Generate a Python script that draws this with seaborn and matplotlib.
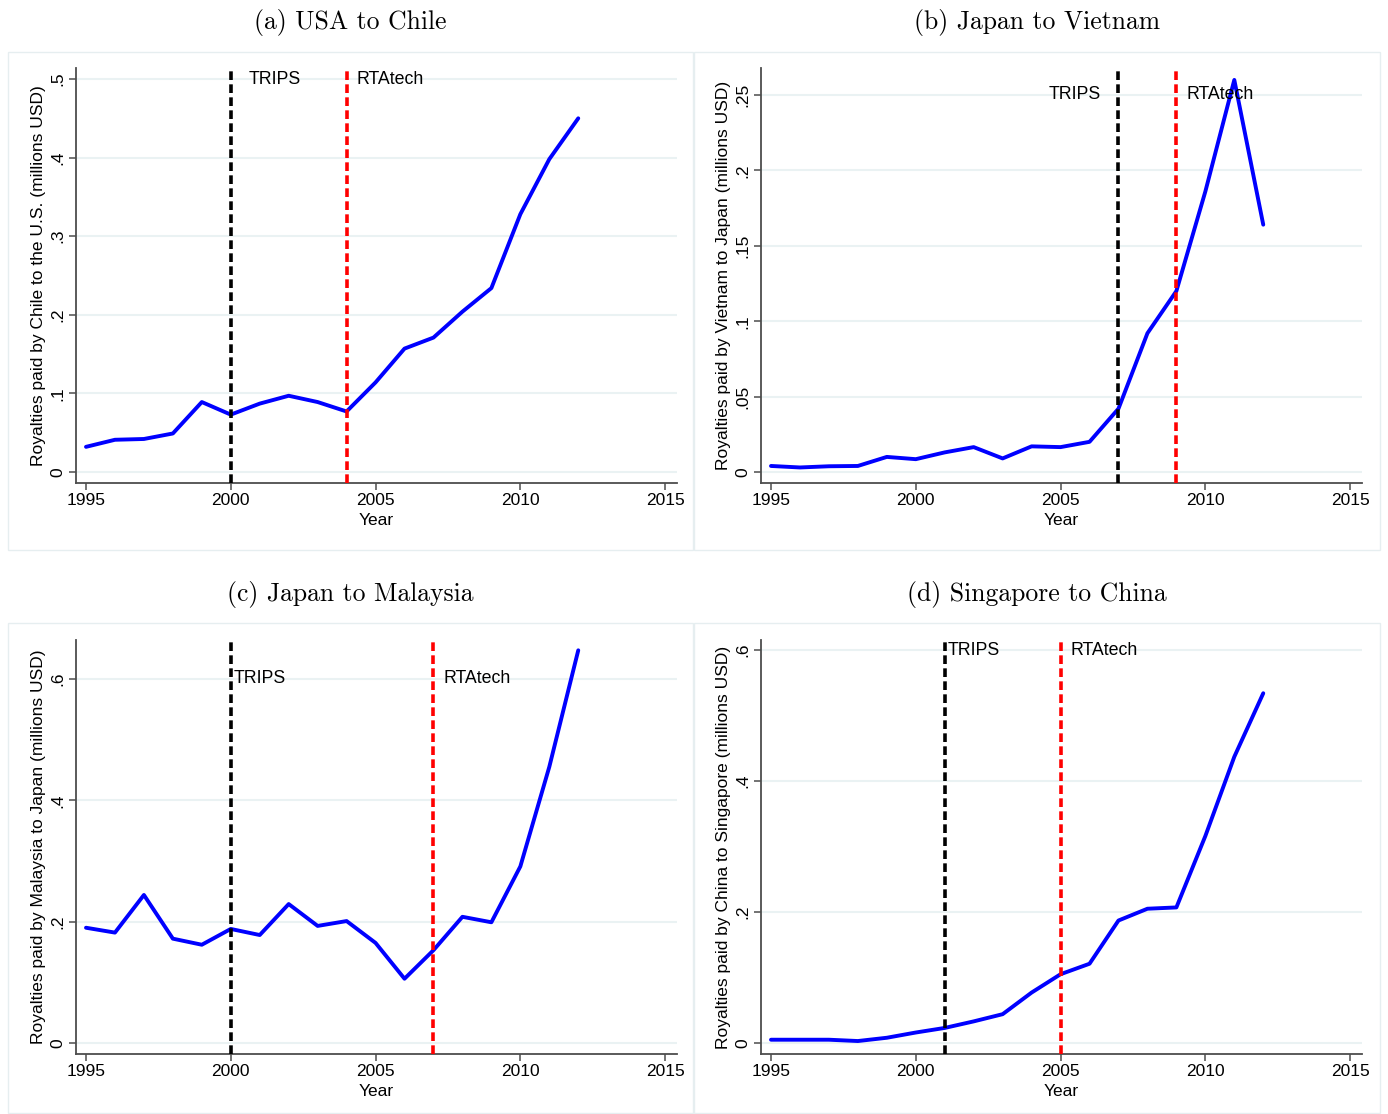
import numpy as np
import pandas as pd
import matplotlib
matplotlib.use("Agg")
import matplotlib.pyplot as plt
from matplotlib.patches import Rectangle
import seaborn as sns

# data
years = list(range(1995, 2013))
chile = [0.032, 0.041, 0.042, 0.049, 0.089, 0.073, 0.087, 0.097, 0.089, 0.077,
         0.114, 0.157, 0.171, 0.204, 0.234, 0.328, 0.398, 0.450]
vietnam = [0.004, 0.003, 0.0038, 0.004, 0.010, 0.0085, 0.013, 0.0165, 0.009, 0.017,
           0.0165, 0.020, 0.042, 0.092, 0.120, 0.186, 0.260, 0.164]
malaysia = [0.190, 0.182, 0.244, 0.172, 0.162, 0.188, 0.178, 0.229, 0.193, 0.201,
            0.165, 0.106, 0.153, 0.208, 0.199, 0.291, 0.455, 0.647]
china = [0.005, 0.005, 0.005, 0.003, 0.008, 0.016, 0.023, 0.033, 0.044, 0.077,
         0.105, 0.121, 0.187, 0.205, 0.207, 0.316, 0.437, 0.534]

titles = ["(a) USA to Chile", "(b) Japan to Vietnam",
          "(c) Japan to Malaysia", "(d) Singapore to China"]
ylabels = ["Royalties paid by Chile to the U.S. (millions USD)",
           "Royalties paid by Vietnam to Japan (millions USD)",
           "Royalties paid by Malaysia to Japan (millions USD)",
           "Royalties paid by China to Singapore (millions USD)"]
trips_year = [2000, 2007, 2000, 2001]
rta_year = [2004, 2009, 2007, 2005]
# label anchor (x, y) for TRIPS and RTAtech text
trips_text = [(2000.6, 0.5, "left"), (2006.4, 0.25, "right"), (2000.1, 0.6, "left"), (2001.1, 0.6, "left")]
rta_text = [(2004.35, 0.5), (2009.35, 0.25), (2007.35, 0.6), (2005.35, 0.6)]

yticks = [[0, 0.1, 0.2, 0.3, 0.4, 0.5],
          [0, 0.05, 0.1, 0.15, 0.2, 0.25],
          [0, 0.2, 0.4, 0.6],
          [0, 0.2, 0.4, 0.6]]
yticklabels = [["0", ".1", ".2", ".3", ".4", ".5"],
               ["0", ".05", ".1", ".15", ".2", ".25"],
               ["0", ".2", ".4", ".6"],
               ["0", ".2", ".4", ".6"]]
ylims = [(-0.014, 0.514), (-0.0073, 0.2679), (-0.018, 0.664), (-0.0168, 0.6153)]
xticks = [1995, 2000, 2005, 2010, 2015]

df = pd.DataFrame({
    "year": years * 4,
    "value": chile + vietnam + malaysia + china,
    "pair": sum([[t] * len(years) for t in titles], []),
})

sns.set_style("white")
plt.rcParams["font.family"] = ["Liberation Sans", "DejaVu Sans"]
plt.rcParams["text.color"] = "black"
plt.rcParams["axes.labelcolor"] = "black"
plt.rcParams["xtick.color"] = "black"
plt.rcParams["ytick.color"] = "black"

W, H = 1388, 1114
fig = plt.figure(figsize=(W / 100, H / 100), dpi=100)

# pixel boxes: (left, right, top, bottom)
axboxes = [(76, 677, 68, 483), (761, 1362, 68, 483),
           (76, 677, 640, 1054), (761, 1362, 640, 1054)]
panels = [(8, 693, 52, 550), (694, 1380, 52, 550),
          (8, 693, 623, 1113), (694, 1380, 623, 1113)]
title_y = [22, 22, 594, 594]
dash = (0, (2.4, 1.2))

for i, t in enumerate(titles):
    pl, pr, pt, pb = panels[i]
    fig.patches.append(Rectangle((pl / W, 1 - pb / H), (pr - pl) / W, (pb - pt) / H,
                                 transform=fig.transFigure, fill=False,
                                 edgecolor="#e6eef0", linewidth=1))
    fig.text((pl + pr) / 2 / W, 1 - title_y[i] / H, t, ha="center", va="center",
             fontsize=18.5, family="cmr10")

    l, r, top, b = axboxes[i]
    ax = fig.add_axes([l / W, 1 - b / H, (r - l) / W, (b - top) / H])
    sub = df[df["pair"] == t]
    sns.lineplot(data=sub, x="year", y="value", ax=ax, color="#0000ff",
                 linewidth=2.8, zorder=3)

    ax.axvline(trips_year[i], color="black", linestyle=dash, linewidth=2.6, zorder=4)
    ax.axvline(rta_year[i], color="#ff0000", linestyle=dash, linewidth=2.6, zorder=4)
    tx, ty, tha = trips_text[i]
    ax.text(tx, ty, "TRIPS", ha=tha, va="center", fontsize=12.8, zorder=5)
    rx, ry = rta_text[i]
    ax.text(rx, ry, "RTAtech", ha="left", va="center", fontsize=12.8, zorder=5)

    ax.set_xlim(1994.655, 2015.41)
    ax.set_ylim(*ylims[i])
    ax.set_xticks(xticks)
    ax.set_xticklabels([str(x) for x in xticks], fontsize=12.5)
    ax.set_yticks(yticks[i])
    ax.set_yticklabels(yticklabels[i], fontsize=12.5, rotation=90, va="center")
    ax.grid(axis="y", color="#eaf2f3", linewidth=1.5, zorder=0)
    ax.grid(axis="x", visible=False)
    ax.set_xlabel("Year", fontsize=12.5, labelpad=3.5)
    ax.set_ylabel(ylabels[i], fontsize=12.5, labelpad=3)
    for s in ["top", "right"]:
        ax.spines[s].set_visible(False)
    for s in ["left", "bottom"]:
        ax.spines[s].set_color("#4d4d4d")
        ax.spines[s].set_linewidth(1.3)
    ax.tick_params(axis="both", direction="out", length=5, width=1.1,
                   color="#4d4d4d", pad=2.5, left=True, bottom=True)

fig.savefig("out.png", dpi=100, facecolor="white")
